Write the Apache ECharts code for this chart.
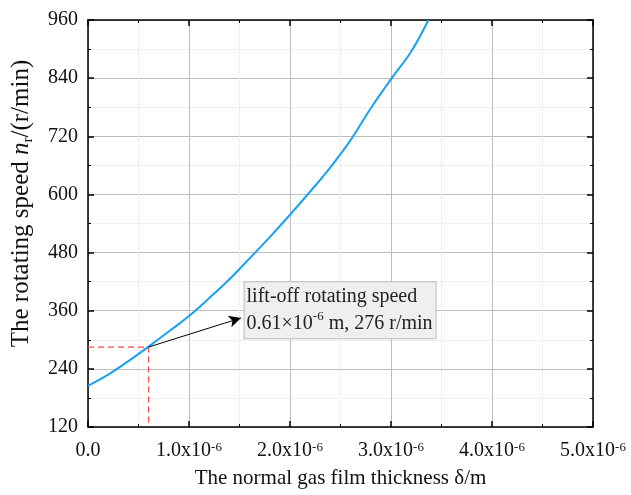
<!DOCTYPE html>
<html>
<head>
<meta charset="utf-8">
<script src="https://cdn.jsdelivr.net/npm/echarts@6/dist/echarts.min.js"></script>
<style>
  html, body { margin: 0; padding: 0; background: #fff; }
  #chart { width: 631px; height: 495px; }
</style>
</head>
<body>
<div id="chart"></div>
<script>
  // film thickness in units of 1e-6 m
  var thicknessMicro = [0, 0.2, 0.4, 0.6, 0.8, 1.0, 1.2, 1.4, 1.6, 1.8, 2.0, 2.2, 2.4, 2.6, 2.8, 3.0, 3.2, 3.37]
  // rotating speed r/min
  var speed = [205, 228, 256, 286, 317, 349, 386, 425, 468, 512, 558, 606, 656, 712, 778, 838, 895, 960]
  // lift-off point, arrow tip and note position
  var liftOff = [0.6, 285]
  var arrowTip = [1.515, 345]
  var noteAnchor = [1.55, 361]
  var xTicks = [0, 1, 2, 3, 4, 5]
  var yTicks = [120, 240, 360, 480, 600, 720, 840, 960]

  var font = '"Liberation Serif", "Times New Roman", serif'
  var chart = echarts.init(document.getElementById('chart'))

  var points = thicknessMicro.map(function (x, i) { return [x, speed[i]] })
  // guide lines from the axes to the lift-off point
  var guide = [[0, liftOff[1]], liftOff, [liftOff[0], yTicks[0]]]

  var axisBase = {
    type: 'value',
    axisLine: { show: true, onZero: false, lineStyle: { color: '#000', width: 1.5 } },
    axisTick: { show: true, inside: true, length: 6, lineStyle: { color: '#000', width: 1.5 } },
    minorTick: { show: true, splitNumber: 2, length: 3, lineStyle: { color: '#000', width: 1 } }
  }

  var option = {
    animation: false,
    textStyle: { fontFamily: font },
    grid: { left: 88, right: 38, top: 20, bottom: 68, containLabel: false, outerBoundsMode: 'none' },
    xAxis: [
      Object.assign({}, axisBase, {
        position: 'bottom',
        min: xTicks[0], max: xTicks[xTicks.length - 1], interval: 1,
        name: 'The normal gas film thickness δ/m',
        nameLocation: 'middle',
        nameGap: 41,
        nameTextStyle: { fontFamily: font, fontSize: 21, color: '#111' },
        axisLabel: {
          margin: 14,
          color: '#111',
          fontFamily: font,
          fontSize: 20,
          formatter: function (v) {
            return v === 0 ? '0.0' : v.toFixed(1) + 'x10{sup|-6}'
          },
          rich: {
            sup: { fontSize: 13, fontFamily: font, color: '#111', verticalAlign: 'top', lineHeight: 12 }
          }
        },
        splitLine: { show: true, lineStyle: { color: '#bdbdbd', width: 1 } },
        minorSplitLine: { show: true, lineStyle: { color: '#e2e2e2', type: 'dotted', width: 1 } }
      }),
      Object.assign({}, axisBase, {
        position: 'top',
        min: xTicks[0], max: xTicks[xTicks.length - 1], interval: 1,
        axisLabel: { show: false },
        splitLine: { show: false }
      })
    ],
    yAxis: [
      Object.assign({}, axisBase, {
        position: 'left',
        min: yTicks[0], max: yTicks[yTicks.length - 1], interval: 120,
        name: 'The rotating speed {i|n}{sub|r}/(r/min)',
        nameLocation: 'middle',
        nameRotate: 90,
        nameGap: 52,
        nameTextStyle: {
          fontFamily: font, fontSize: 25, color: '#111', lineHeight: 30,
          padding: [0, 0, 0, 40],
          rich: {
            i: { fontFamily: font, fontSize: 25, fontStyle: 'italic', color: '#111', lineHeight: 30 },
            sub: { fontFamily: font, fontSize: 15, color: '#111', verticalAlign: 'bottom', lineHeight: 16, padding: [14, 0, 0, 0] }
          }
        },
        axisLabel: { margin: 10, color: '#111', fontFamily: font, fontSize: 20 },
        splitLine: { show: true, lineStyle: { color: '#bdbdbd', width: 1 } },
        minorSplitLine: { show: true, lineStyle: { color: '#e2e2e2', type: 'dotted', width: 1 } }
      }),
      Object.assign({}, axisBase, {
        position: 'right',
        min: yTicks[0], max: yTicks[yTicks.length - 1], interval: 120,
        axisLabel: { show: false },
        splitLine: { show: false }
      })
    ],
    series: [
      {
        type: 'line',
        data: guide,
        showSymbol: false,
        silent: true,
        lineStyle: { color: '#ff4545', type: [6, 4], width: 1.2 },
        z: 2
      },
      {
        type: 'line',
        data: points,
        smooth: 0.4,
        showSymbol: false,
        lineStyle: { color: '#18a0f5', width: 2 },
        z: 3,
        markPoint: {
          silent: true,
          symbol: 'circle',
          symbolSize: 0,
          data: [{ coord: noteAnchor }],
          label: {
            show: true,
            position: 'right',
            distance: 0,
            formatter: 'lift-off rotating speed\n0.61×10{sup|-6} m, 276 r/min',
            fontFamily: font,
            fontSize: 20,
            lineHeight: 27,
            color: '#222',
            backgroundColor: '#efefef',
            borderColor: '#bcbcbc',
            borderWidth: 1,
            padding: [1, 3, 1, 2],
            rich: {
              sup: { fontSize: 13, fontFamily: font, color: '#222', verticalAlign: 'top', lineHeight: 16 }
            }
          }
        }
      },
      {
        type: 'line',
        data: [],
        z: 4,
        markLine: {
          silent: true,
          symbol: ['none', 'arrow'],
          symbolSize: [9, 12],
          label: { show: false },
          lineStyle: { color: '#000', type: 'solid', width: 1 },
          data: [[{ coord: liftOff }, { coord: arrowTip }]]
        }
      }
    ]
  }

  chart.setOption(option)
</script>
</body>
</html>
